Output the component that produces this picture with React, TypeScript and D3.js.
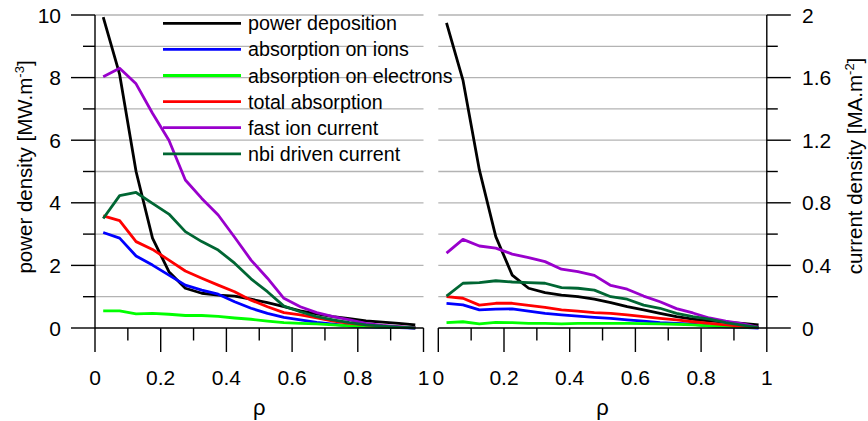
import React from "react";
import * as d3 from "d3";

const rho = [0.025, 0.075, 0.125, 0.175, 0.225, 0.275, 0.325, 0.375, 0.425, 0.475, 0.525, 0.575, 0.625, 0.675, 0.725, 0.775, 0.825, 0.875, 0.925, 0.975];

// left panel — power density [MW/m3]
const powerDepLeft = [9.93, 8.1, 5.0, 2.87, 1.8, 1.27, 1.11, 1.05, 1.02, 0.92, 0.81, 0.68, 0.55, 0.45, 0.36, 0.30, 0.23, 0.19, 0.15, 0.10];
const ionsLeft = [3.05, 2.87, 2.3, 2.01, 1.69, 1.37, 1.21, 1.08, 0.84, 0.63, 0.47, 0.34, 0.26, 0.18, 0.12, 0.07, 0.04, 0.02, 0.01, 0.0];
const electronsLeft = [0.55, 0.55, 0.45, 0.47, 0.44, 0.40, 0.40, 0.37, 0.32, 0.28, 0.22, 0.17, 0.15, 0.13, 0.10, 0.07, 0.05, 0.03, 0.02, 0.01];
const totalLeft = [3.58, 3.43, 2.76, 2.51, 2.17, 1.82, 1.59, 1.37, 1.16, 0.89, 0.68, 0.49, 0.42, 0.32, 0.22, 0.15, 0.10, 0.06, 0.03, 0.01];
// left panel — current density [MA/m2]
const fastIonLeft = [1.606, 1.66, 1.56, 1.372, 1.2, 0.946, 0.828, 0.722, 0.58, 0.434, 0.318, 0.19, 0.136, 0.098, 0.072, 0.052, 0.03, 0.016, 0.008, 0.0];
const nbiLeft = [0.70, 0.846, 0.866, 0.796, 0.728, 0.616, 0.552, 0.498, 0.414, 0.314, 0.232, 0.14, 0.104, 0.072, 0.052, 0.034, 0.02, 0.012, 0.006, 0.0];

// right panel — power density [MW/m3]
const powerDepRight = [9.75, 7.92, 5.05, 2.92, 1.69, 1.27, 1.13, 1.05, 1.0, 0.92, 0.81, 0.68, 0.58, 0.47, 0.36, 0.28, 0.23, 0.19, 0.15, 0.10];
const ionsRight = [0.79, 0.74, 0.58, 0.6, 0.61, 0.54, 0.47, 0.42, 0.38, 0.34, 0.31, 0.26, 0.22, 0.17, 0.15, 0.12, 0.07, 0.04, 0.02, 0.0];
const electronsRight = [0.17, 0.2, 0.13, 0.18, 0.17, 0.15, 0.15, 0.13, 0.15, 0.15, 0.15, 0.15, 0.14, 0.13, 0.12, 0.1, 0.07, 0.05, 0.03, 0.01];
const totalRight = [1.0, 0.95, 0.73, 0.79, 0.79, 0.72, 0.66, 0.58, 0.54, 0.49, 0.47, 0.42, 0.36, 0.31, 0.26, 0.2, 0.15, 0.1, 0.05, 0.02];
// right panel — current density [MA/m2]
const fastIonRight = [0.478, 0.566, 0.524, 0.51, 0.472, 0.45, 0.424, 0.376, 0.36, 0.336, 0.272, 0.248, 0.204, 0.168, 0.124, 0.096, 0.064, 0.044, 0.028, 0.004];
const nbiRight = [0.204, 0.286, 0.29, 0.302, 0.294, 0.29, 0.286, 0.258, 0.254, 0.242, 0.2, 0.184, 0.146, 0.126, 0.094, 0.072, 0.056, 0.034, 0.018, 0.002];

const seriesNames = ["power deposition", "absorption on ions", "absorption on electrons", "total absorption", "fast ion current", "nbi driven current"];
const seriesColors = ["#000000", "#0000ff", "#00ff00", "#ff0000", "#9900cc", "#006633"];
const seriesAxis = ["power", "power", "power", "power", "current", "current"];

const xTicks = [0, 0.1, 0.2, 0.3, 0.4, 0.5, 0.6, 0.7, 0.8, 0.9, 1];
const xTickLabels = ["0", "", "0.2", "", "0.4", "", "0.6", "", "0.8", "", "1"];
const powerTicks = [0, 1, 2, 3, 4, 5, 6, 7, 8, 9, 10];
const currentTicks = [0, 0.2, 0.4, 0.6, 0.8, 1.0, 1.2, 1.4, 1.6, 1.8, 2.0];

const FONT = "'Liberation Sans', Arial, Helvetica, sans-serif";

export default function App() {
  const W = 868, H = 421;
  const xL = d3.scaleLinear().domain([0, 1]).range([95, 423.5]);
  const xR = d3.scaleLinear().domain([0, 1]).range([438.3, 766.8]);
  const yP = d3.scaleLinear().domain([0, 10]).range([328, 15]);
  const yC = d3.scaleLinear().domain([0, 2]).range([328, 15]);

  const leftData = [powerDepLeft, ionsLeft, electronsLeft, totalLeft, fastIonLeft, nbiLeft];
  const rightData = [powerDepRight, ionsRight, electronsRight, totalRight, fastIonRight, nbiRight];

  const makePath = (x: any, vals: number[], axis: string) => {
    const y = axis === "power" ? yP : yC;
    const line = d3.line<number>().x((_, i) => x(rho[i])).y((v) => y(v));
    return line(vals) || "";
  };

  const axisStroke = "#000";
  const gridStroke = "#b3b3b3";

  return (
    <svg width={W} height={H} style={{ position: "absolute", left: 0, top: 0, background: "#fff" }} fontFamily={FONT}>
      <rect x={0} y={0} width={W} height={H} fill="#fff" />
      {/* gridlines */}
      {powerTicks.filter((t) => t > 0).map((t) => (
        <g key={"g" + t}>
          <line x1={xL(0)} x2={xL(1)} y1={yP(t)} y2={yP(t)} stroke={gridStroke} strokeWidth={1.3} />
          <line x1={xR(0)} x2={xR(1)} y1={yP(t)} y2={yP(t)} stroke={gridStroke} strokeWidth={1.3} />
        </g>
      ))}

      {/* series */}
      {leftData.map((vals, i) => (
        <path key={"l" + i} d={makePath(xL, vals, seriesAxis[i])} fill="none" stroke={seriesColors[i]} strokeWidth={2.8} strokeLinejoin="round" />
      ))}
      {rightData.map((vals, i) => (
        <path key={"r" + i} d={makePath(xR, vals, seriesAxis[i])} fill="none" stroke={seriesColors[i]} strokeWidth={2.8} strokeLinejoin="round" />
      ))}

      {/* left y axis */}
      <line x1={xL(0)} x2={xL(0)} y1={yP(10)} y2={yP(0)} stroke={axisStroke} strokeWidth={1.4} />
      {powerTicks.map((t) => (
        <line key={"lt" + t} x1={xL(0) - (t % 2 === 0 ? 24 : 12)} x2={xL(0)} y1={yP(t)} y2={yP(t)} stroke={axisStroke} strokeWidth={1.4} />
      ))}
      {powerTicks.filter((t) => t % 2 === 0).map((t) => (
        <text key={"ll" + t} x={61} y={yP(t)} dy="0.36em" textAnchor="end" fontSize={21}>{t}</text>
      ))}

      {/* right y axis */}
      <line x1={xR(1)} x2={xR(1)} y1={yC(2)} y2={yC(0)} stroke={axisStroke} strokeWidth={1.4} />
      {currentTicks.map((t, i) => (
        <line key={"rt" + i} x1={xR(1)} x2={xR(1) + (i % 2 === 0 ? 24 : 11)} y1={yC(t)} y2={yC(t)} stroke={axisStroke} strokeWidth={1.4} />
      ))}
      {currentTicks.filter((_, i) => i % 2 === 0).map((t) => (
        <text key={"rl" + t} x={802} y={yC(t)} dy="0.36em" textAnchor="start" fontSize={21}>{d3.format("~g")(t)}</text>
      ))}

      {/* x axes */}
      {[xL, xR].map((x, k) => (
        <g key={"xa" + k}>
          <line x1={x(0)} x2={x(1)} y1={yP(0)} y2={yP(0)} stroke={axisStroke} strokeWidth={1.4} />
          {xTicks.map((t, i) => (
            <line key={"xt" + i} x1={x(t)} x2={x(t)} y1={yP(0)} y2={yP(0) + (i % 2 === 0 ? 24 : 12.5)} stroke={axisStroke} strokeWidth={1.4} />
          ))}
          {xTicks.map((t, i) => xTickLabels[i] ? (
            <text key={"xl" + i} x={x(t)} y={377} dy="0.36em" textAnchor="middle" fontSize={21}>{xTickLabels[i]}</text>
          ) : null)}
          <text x={(x(0) + x(1)) / 2} y={407} dy="0.36em" textAnchor="middle" fontSize={22}>ρ</text>
        </g>
      ))}

      {/* axis titles */}
      <text transform="translate(25,167) rotate(-90)" textAnchor="middle" dy="0.36em" fontSize={20.5}>
        power density [MW.m<tspan dy="-8" fontSize={13}>-3</tspan><tspan dy="8">]</tspan>
      </text>
      <text transform="translate(855,166) rotate(-90)" textAnchor="middle" dy="0.36em" fontSize={20.5}>
        current density [MA.m<tspan dy="-8" fontSize={13}>-2</tspan><tspan dy="8">]</tspan>
      </text>

      {/* legend */}
      {seriesNames.map((name, i) => {
        const yy = 23.3 + i * 26.1;
        return (
          <g key={"lg" + i}>
            <line x1={163} x2={241} y1={yy} y2={yy} stroke={seriesColors[i]} strokeWidth={2.8} />
            <text x={248} y={yy} dy="0.36em" fontSize={19.7}>{name}</text>
          </g>
        );
      })}
    </svg>
  );
}
